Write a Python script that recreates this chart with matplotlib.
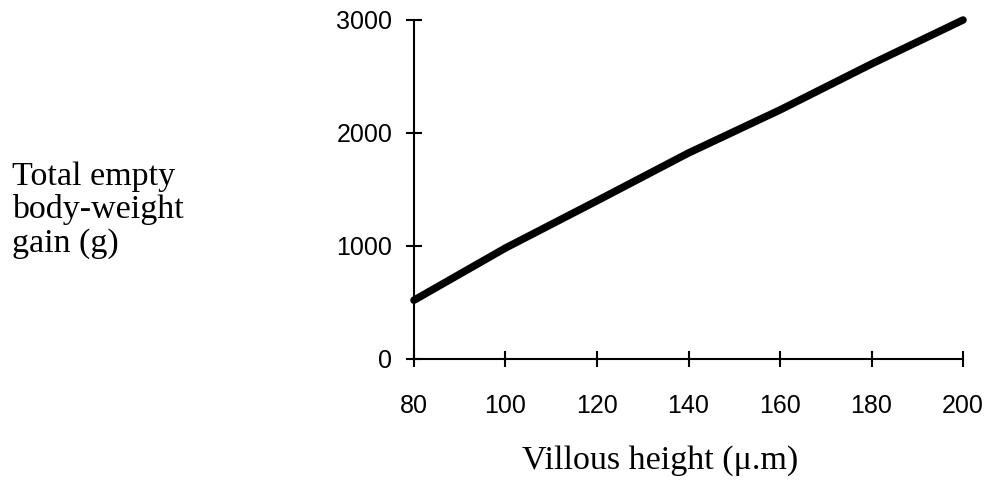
import matplotlib
matplotlib.use("Agg")
import matplotlib.pyplot as plt

# villous height (um) vs total empty body-weight gain (g)
villous_height = [80, 100, 120, 140, 160, 180, 200]
weight_gain = [520, 982, 1400, 1823, 2204, 2611, 3000]

x_ticks = [80, 100, 120, 140, 160, 180, 200]
y_ticks = [0, 1000, 2000, 3000]

fig = plt.figure(figsize=(9.84, 4.84), dpi=100)
ax = fig.add_axes([0.4207, 0.2583, 0.558, 0.7004])

ax.plot(villous_height, weight_gain, color="black", linewidth=5.4,
        solid_capstyle="round", solid_joinstyle="round", clip_on=False)

ax.set_xlim(80, 200)
ax.set_ylim(0, 3000)
ax.set_xticks(x_ticks)
ax.set_yticks(y_ticks)

for side in ["top", "right"]:
    ax.spines[side].set_visible(False)
for side in ["left", "bottom"]:
    ax.spines[side].set_linewidth(1.5)

ax.tick_params(axis="both", direction="inout", length=11, width=1.5,
               labelsize=18, colors="black")
ax.tick_params(axis="x", pad=20)
ax.tick_params(axis="y", pad=10)
for lab in ax.get_xticklabels() + ax.get_yticklabels():
    lab.set_fontfamily("Liberation Sans")

fig.text(12 / 984, 1 - 210 / 484, "Total empty\nbody-weight\ngain (g)",
         ha="left", va="center", fontsize=24.5, family="Liberation Serif",
         linespacing=1.1)
fig.text(798 / 984, 1 - 469 / 484, "Villous height (\u03bc.m)",
         ha="right", va="baseline", fontsize=24.5, family="Liberation Serif")

fig.savefig("out.png", dpi=100)
